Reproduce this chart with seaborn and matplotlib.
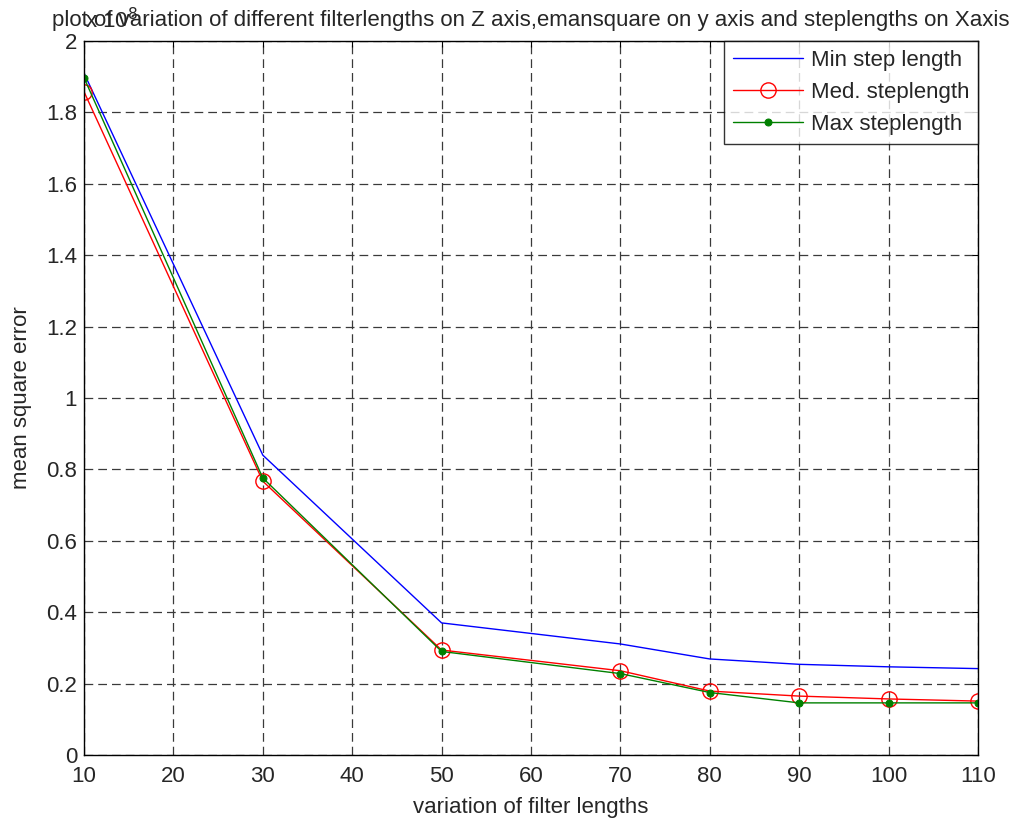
import numpy as np
import pandas as pd
import matplotlib
matplotlib.use("Agg")
import matplotlib.pyplot as plt
import seaborn as sns

filter_lengths = [10, 30, 50, 70, 80, 90, 100, 110]
min_step = [1.91, 0.840, 0.370, 0.311, 0.269, 0.254, 0.247, 0.242]
med_step = [1.858, 0.767, 0.294, 0.236, 0.179, 0.165, 0.157, 0.151]
max_step = [1.897, 0.776, 0.290, 0.228, 0.175, 0.146, 0.146, 0.146]
series_names = ["Min step length", "Med. steplength", "Max steplength"]
x_ticks = [10, 20, 30, 40, 50, 60, 70, 80, 90, 100, 110]
y_ticks = [0, 0.2, 0.4, 0.6, 0.8, 1, 1.2, 1.4, 1.6, 1.8, 2]
y_tick_labels = ["0", "0.2", "0.4", "0.6", "0.8", "1", "1.2", "1.4", "1.6", "1.8", "2"]

sns.set_theme(style="white")
plt.rcParams["font.family"] = ["Liberation Sans", "DejaVu Sans"]

df = pd.DataFrame({
    "x": filter_lengths * 3,
    "y": min_step + med_step + max_step,
    "series": [series_names[0]] * 8 + [series_names[1]] * 8 + [series_names[2]] * 8,
})

fig = plt.figure(figsize=(10.13, 8.18), dpi=100)
ax = fig.add_axes([84 / 1013, 1 - 755 / 818, (978 - 84) / 1013, (755 - 41) / 818])

palette = {series_names[0]: "#0000ff", series_names[1]: "#ff0000", series_names[2]: "#008000"}
styles = [
    dict(marker=None),
    dict(marker="o", markersize=11, markerfacecolor="none", markeredgecolor="#ff0000", markeredgewidth=1.0),
    dict(marker="o", markersize=5, markerfacecolor="#008000", markeredgecolor="#008000"),
]
for name, st in zip(series_names, styles):
    sub = df[df["series"] == name]
    sns.lineplot(data=sub, x="x", y="y", ax=ax, color=palette[name], linewidth=1.0,
                 label=name, **st)

ax.set_xlim(10, 110)
ax.set_ylim(0, 2)
ax.set_xticks(x_ticks)
ax.set_yticks(y_ticks)
ax.set_yticklabels(y_tick_labels)
ax.tick_params(direction="in", length=4, labelsize=16, top=True, right=True,
               color="black", width=0.8)
ax.tick_params(axis="x", pad=8)
ax.tick_params(axis="y", pad=5)
for s in ax.spines.values():
    s.set_color("black")
    s.set_linewidth(1.0)
ax.grid(True, color="#3a3a3a", linestyle=(0, (7, 4)), linewidth=0.9)
ax.set_axisbelow(True)

ax.set_xlabel("variation of filter lengths", fontsize=16, labelpad=7)
ax.set_ylabel("mean square error", fontsize=16, labelpad=10)
ax.set_title("plot of variation of different filterlengths on Z axis,emansquare on y axis and steplengths on Xaxis",
             fontsize=16, pad=11)
fig.text(85 / 1013, 1 - 28 / 818, r"x 10$^{8}$", fontsize=16, ha="left", va="baseline")

leg = ax.legend(loc="upper right", fontsize=16, frameon=True, fancybox=False,
                edgecolor="black", borderaxespad=0.0, handlelength=3.15,
                handletextpad=0.36, labelspacing=0.5, borderpad=0.4)
leg.get_frame().set_linewidth(1.0)

fig.savefig("out.png", dpi=100, facecolor="white")
